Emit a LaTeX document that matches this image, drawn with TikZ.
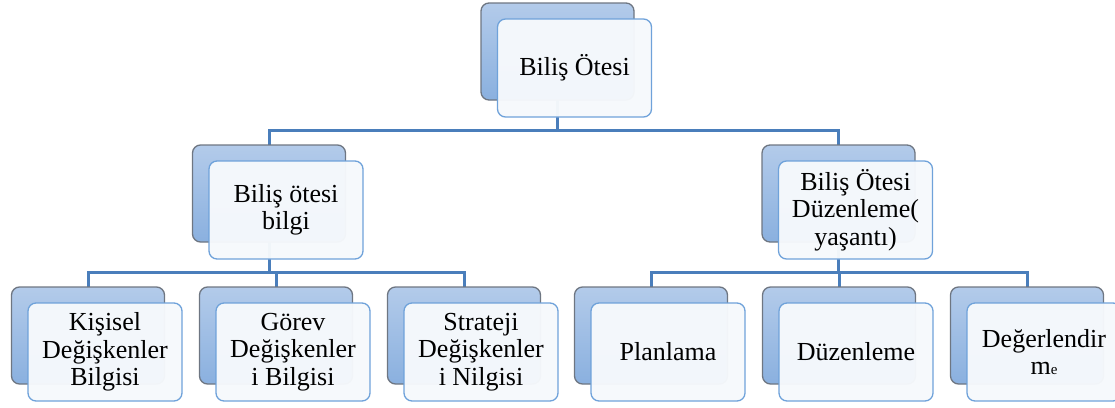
\documentclass[tikz,border=0pt]{standalone}
\usepackage{fontspec}
\setmainfont{Liberation Serif}
\pgfdeclarelayer{bg}
\pgfsetlayers{bg,main}
\definecolor{backtop}{HTML}{B3CBEA}
\definecolor{backbot}{HTML}{8AB0DF}
\definecolor{backline}{HTML}{6E7682}
\definecolor{frontfill}{HTML}{F6F9FC}
\definecolor{frontline}{HTML}{6FA2DA}
\definecolor{conn}{HTML}{4A7EBB}
\begin{document}
\begin{tikzpicture}[x=1pt,y=-1pt,
  backbox/.style={draw=backline, line width=1.3pt, rounded corners=8pt,
    top color=backtop, bottom color=backbot, minimum width=153pt, minimum height=97pt,
    inner sep=0pt, outer sep=0pt},
  frontbox/.style={draw=frontline, line width=1.3pt, rounded corners=8pt,
    fill=frontfill, fill opacity=0.97, text opacity=1, minimum width=154pt, minimum height=98pt,
    inner sep=0pt, outer sep=0pt, align=center,
    font=\fontsize{26}{27.5}\selectfont},
  connector/.style={draw=conn, line width=3pt}]
\useasboundingbox (0,0) rectangle (1115,407);
% back boxes
\node[backbox] (rootB) at (557.5,51.5) {};
\node[backbox] (lB) at (269,193.5) {};
\node[backbox] (rB) at (838.5,193.5) {};
\node[backbox] (aB) at (88,335.5) {};
\node[backbox] (bB) at (276,335.5) {};
\node[backbox] (cB) at (464,335.5) {};
\node[backbox] (dB) at (651,335.5) {};
\node[backbox] (eB) at (839,335.5) {};
\node[backbox] (fB) at (1027,335.5) {};
% front boxes
\node[frontbox] (rootF) at (574.5,68) {Biliş Ötesi};
\node[frontbox] (lF) at (286,210) {Biliş ötesi\\bilgi};
\node[frontbox] (rF) at (855.5,210) {Biliş Ötesi\\Düzenleme(\\yaşantı)};
\node[frontbox] (aF) at (105,352) {Kişisel\\Değişkenler\\Bilgisi};
\node[frontbox] (bF) at (293,352) {Görev\\Değişkenler\\i Bilgisi};
\node[frontbox] (cF) at (481,352) {Strateji\\Değişkenler\\i Nilgisi};
\node[frontbox] (dF) at (668,352) {Planlama};
\node[frontbox] (eF) at (856,352) {Düzenleme};
\node[frontbox] (fF) at (1044,352) {Değerlendir\\m{\fontsize{15}{15}\selectfont e}};
% connectors
\begin{pgfonlayer}{bg}
\draw[connector] (rootB.south) -- ++(0,30) -| (lB.north);
\draw[connector] (rootB.south) -- ++(0,30) -| (rB.north);
\draw[connector] (lB.south) -- ++(0,30) -| (aB.north);
\draw[connector] (lB.south) -- ++(0,30) -| (bB.north);
\draw[connector] (lB.south) -- ++(0,30) -| (cB.north);
\draw[connector] (rB.south) -- ++(0,30) -| (dB.north);
\draw[connector] (rB.south) -- ++(0,30) -| (eB.north);
\draw[connector] (rB.south) -- ++(0,30) -| (fB.north);
\end{pgfonlayer}
\end{tikzpicture}
\end{document}
